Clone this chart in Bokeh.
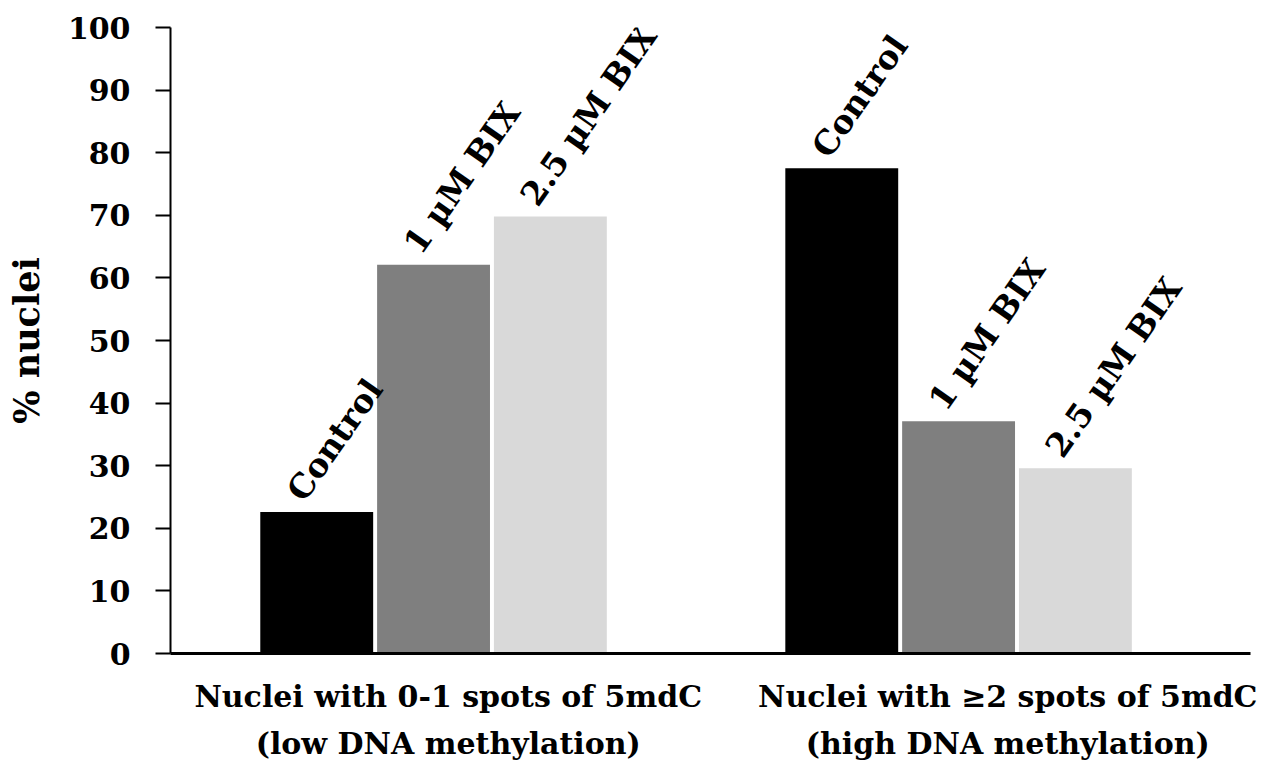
from bokeh.plotting import figure
from bokeh.models import ColumnDataSource, Range1d, FixedTicker
from bokeh.core.properties import value
from bokeh.embed import file_html
from bokeh.resources import INLINE
import math

# ---- data ----
groups = ["Nuclei with 0-1 spots of 5mdC\n(low DNA methylation)",
          "Nuclei with \u22652 spots of 5mdC\n(high DNA methylation)"]
treatments = ["Control", "1 \u00b5M BIX", "2.5 \u00b5M BIX"]
low_methylation = [22.6, 62.1, 69.8]
high_methylation = [77.5, 37.1, 29.6]
y_ticks = [0, 10, 20, 30, 40, 50, 60, 70, 80, 90, 100]

colors = ["#000000", "#7f7f7f", "#d9d9d9"]
series = [low_methylation, high_methylation]

step = 0.2225
bar_w = 0.215
xs, tops, fills, labels = [], [], [], []
for g, vals in enumerate(series):
    for s, v in enumerate(vals):
        xs.append(g + (s - 1) * step)
        tops.append(v)
        fills.append(colors[s])
        labels.append(treatments[s])

src = ColumnDataSource(dict(x=xs, top=tops, fill=fills, label=labels))

FONT = "DejaVu Serif"

p = figure(width=1257, height=763, output_backend="svg", toolbar_location=None,
           x_range=Range1d(-0.501, 1.556), y_range=Range1d(0, 100),
           min_border_left=170, min_border_right=7, min_border_top=27,
           min_border_bottom=104)
p.outline_line_color = None
p.xgrid.grid_line_color = None
p.ygrid.grid_line_color = None
p.background_fill_color = "white"

p.vbar(x="x", top="top", width=bar_w, bottom=0, fill_color="fill",
       line_color=None, source=src)

p.text(x="x", y="top", text="label", source=src, angle=math.radians(55),
       text_align="left", text_baseline="alphabetic", x_offset=-22, y_offset=-15,
       text_font=value(FONT), text_font_style="bold", text_font_size="33px",
       text_color="black")

# y axis
ya = p.yaxis[0]
ya.ticker = FixedTicker(ticks=y_ticks)
ya.minor_tick_line_color = None
ya.major_tick_in = 0
ya.major_tick_out = 15
ya.major_tick_line_width = 2
ya.axis_line_width = 2
ya.major_label_standoff = 25
ya.major_label_text_font = FONT
ya.major_label_text_font_style = "bold"
ya.major_label_text_font_size = "30px"
ya.major_label_text_color = "black"
ya.axis_label = "% nuclei"
ya.axis_label_standoff = 18
ya.axis_label_text_font = FONT
ya.axis_label_text_font_style = "bold"
ya.axis_label_text_font_size = "35px"
ya.axis_label_text_color = "black"

# x axis
xa = p.xaxis[0]
label_pos = [0.028, 1.1]
xa.ticker = FixedTicker(ticks=label_pos)
xa.major_label_overrides = {label_pos[i]: groups[i] for i in range(2)}
xa.minor_tick_line_color = None
xa.major_tick_in = 0
xa.major_tick_out = 0
xa.axis_line_width = 3
xa.major_label_standoff = 25
xa.major_label_text_font = FONT
xa.major_label_text_font_style = "bold"
xa.major_label_text_font_size = "30px"
xa.major_label_text_color = "black"
xa.major_label_text_line_height = 1.35

open("out.html", "w").write(file_html(p, INLINE))
